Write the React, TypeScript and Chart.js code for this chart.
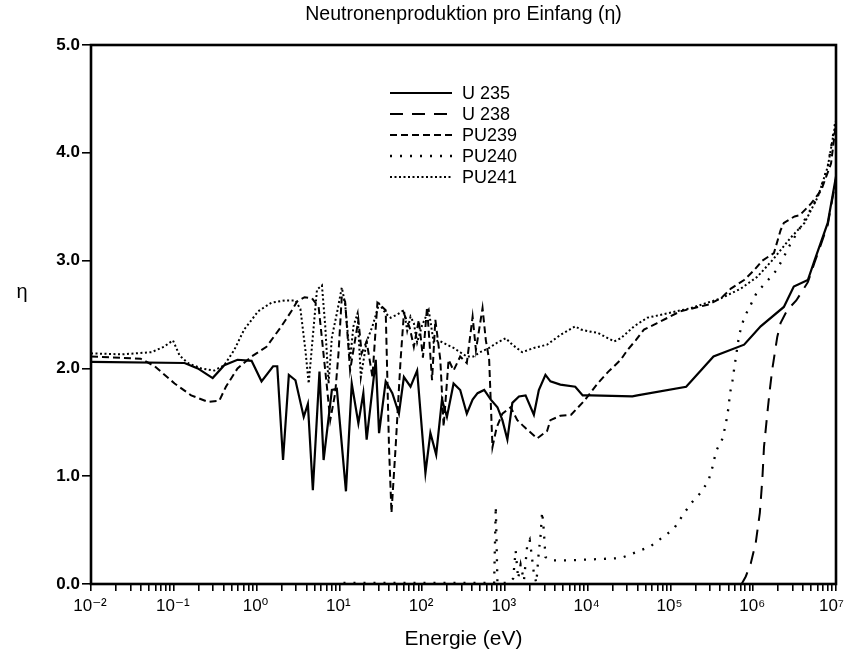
import React, { useEffect, useRef } from 'react';
import { Chart, registerables } from 'chart.js';

Chart.register(...registerables);

// ---------- texts ----------
const chartTitle = 'Neutronenproduktion pro Einfang (η)';
const xAxisTitle = 'Energie (eV)';
const yAxisTitle = 'η';
const seriesNames = ['U 235', 'U 238', 'PU239', 'PU240', 'PU241'];

// ---------- axes ----------
const yTickValues = [0, 1, 2, 3, 4, 5];
const xDecades = [-2, -1, 0, 1, 2, 3, 4, 5, 6, 7];
const xMinorFactors = [1, 2, 3, 4, 5, 6, 7, 8, 9];

// ---------- data: [log10(E / eV), eta] ----------
const u235: [number, number][] = [
  [-2, 2.06], [-0.87, 2.05], [-0.71, 2.0], [-0.53, 1.91], [-0.39, 2.03], [-0.23, 2.08],
  [-0.06, 2.07], [0.06, 1.88], [0.2, 2.02], [0.25, 2.02], [0.32, 1.15], [0.39, 1.94],
  [0.47, 1.89], [0.57, 1.55], [0.62, 1.67], [0.68, 0.87], [0.76, 1.97], [0.81, 1.15],
  [0.91, 1.8], [0.97, 1.81], [1.08, 0.86], [1.15, 1.86], [1.23, 1.49], [1.29, 1.77],
  [1.33, 1.34], [1.44, 2.08], [1.48, 1.4], [1.56, 1.88], [1.64, 1.77], [1.72, 1.58],
  [1.78, 1.92], [1.86, 1.83], [1.94, 1.98], [2.04, 1.03], [2.1, 1.4], [2.17, 1.2],
  [2.24, 1.71], [2.3, 1.55], [2.38, 1.86], [2.46, 1.8], [2.54, 1.58], [2.61, 1.71],
  [2.67, 1.77], [2.75, 1.8], [2.83, 1.71], [2.91, 1.64], [2.97, 1.52], [3.03, 1.34],
  [3.09, 1.68], [3.17, 1.74], [3.25, 1.75], [3.35, 1.57], [3.41, 1.8], [3.49, 1.94],
  [3.55, 1.88], [3.67, 1.85], [3.85, 1.83], [3.94, 1.75], [4.04, 1.75], [4.54, 1.74],
  [4.6, 1.75], [5.19, 1.83], [5.52, 2.11], [5.89, 2.22], [6.09, 2.39], [6.37, 2.57],
  [6.49, 2.76], [6.66, 2.82], [6.74, 3.0], [6.9, 3.35], [7.0, 3.78],
];

const u238: [number, number][] = [
  [5.86, 0.0], [5.91, 0.07], [5.97, 0.19], [6.03, 0.38], [6.08, 0.66], [6.11, 0.97],
  [6.13, 1.27], [6.17, 1.58], [6.2, 1.8], [6.23, 1.99], [6.29, 2.29], [6.33, 2.42],
  [6.41, 2.54], [6.52, 2.63], [6.66, 2.8], [6.74, 2.98], [6.9, 3.33], [7.0, 3.76],
];

const pu239: [number, number][] = [
  [-2, 2.11], [-1.4, 2.09], [-1.23, 2.02], [-0.99, 1.86], [-0.79, 1.75], [-0.59, 1.69],
  [-0.45, 1.7], [-0.37, 1.83], [-0.23, 2.0], [-0.06, 2.11], [0.12, 2.2], [0.3, 2.39],
  [0.42, 2.53], [0.49, 2.62], [0.58, 2.66], [0.67, 2.65], [0.75, 2.57], [0.85, 1.83],
  [0.89, 1.52], [0.95, 1.77], [0.99, 2.14], [1.03, 2.67], [1.07, 2.62], [1.13, 1.98],
  [1.23, 2.45], [1.27, 2.14], [1.33, 2.25], [1.4, 1.92], [1.46, 2.61], [1.56, 2.54],
  [1.6, 1.27], [1.63, 0.66], [1.68, 1.27], [1.74, 2.08], [1.78, 2.51], [1.85, 2.38],
  [1.9, 2.2], [1.96, 2.45], [2.01, 2.1], [2.06, 2.57], [2.12, 1.89], [2.16, 2.45],
  [2.22, 2.08], [2.26, 1.46], [2.32, 2.08], [2.38, 1.98], [2.46, 2.11], [2.54, 2.05],
  [2.61, 2.48], [2.65, 2.17], [2.73, 2.56], [2.77, 2.26], [2.81, 2.08], [2.85, 1.27],
  [2.9, 1.45], [2.97, 1.58], [3.07, 1.64], [3.15, 1.52], [3.23, 1.46], [3.39, 1.35],
  [3.51, 1.42], [3.55, 1.52], [3.67, 1.56], [3.8, 1.57], [3.96, 1.7], [4.12, 1.86],
  [4.25, 1.97], [4.4, 2.08], [4.48, 2.17], [4.58, 2.26], [4.68, 2.36], [4.84, 2.42],
  [5.12, 2.53], [5.45, 2.59], [5.61, 2.65], [5.73, 2.74], [5.89, 2.82], [6.01, 2.91],
  [6.11, 3.0], [6.25, 3.07], [6.33, 3.28], [6.37, 3.35], [6.5, 3.41], [6.56, 3.42],
  [6.7, 3.53], [6.82, 3.65], [6.94, 3.9], [7.0, 4.28],
];

const pu240: [number, number][] = [
  [1.05, 0.01], [2.0, 0.01], [2.87, 0.01], [2.89, 0.72], [2.91, 0.01], [3.05, 0.01],
  [3.1, 0.05], [3.13, 0.31], [3.16, 0.05], [3.19, 0.18], [3.23, 0.03], [3.27, 0.36],
  [3.3, 0.41], [3.32, 0.29], [3.35, 0.1], [3.38, 0.01], [3.41, 0.3], [3.43, 0.44],
  [3.45, 0.67], [3.47, 0.5], [3.49, 0.25], [3.55, 0.22], [3.8, 0.22], [4.1, 0.23],
  [4.4, 0.24], [4.6, 0.3], [4.76, 0.35], [4.9, 0.43], [5.04, 0.51], [5.15, 0.64],
  [5.25, 0.75], [5.37, 0.85], [5.46, 0.96], [5.51, 1.09], [5.55, 1.23], [5.63, 1.35],
  [5.67, 1.49], [5.7, 1.63], [5.72, 1.77], [5.75, 1.89], [5.78, 2.05], [5.83, 2.31],
  [5.89, 2.47], [5.97, 2.59], [6.04, 2.7], [6.18, 2.82], [6.28, 2.91], [6.36, 3.02],
  [6.44, 3.14], [6.6, 3.35], [6.78, 3.59], [6.9, 3.87], [7.0, 4.32],
];

const pu241: [number, number][] = [
  [-2, 2.14], [-1.64, 2.13], [-1.27, 2.15], [-1.12, 2.2], [-1.01, 2.26], [-0.93, 2.12],
  [-0.83, 2.05], [-0.67, 2.0], [-0.51, 1.98], [-0.39, 2.03], [-0.27, 2.17], [-0.15, 2.36],
  [0.02, 2.53], [0.18, 2.61], [0.34, 2.63], [0.47, 2.63], [0.53, 2.55], [0.59, 2.17],
  [0.63, 1.86], [0.68, 2.3], [0.73, 2.73], [0.79, 2.77], [0.83, 2.39], [0.87, 1.86],
  [0.91, 2.29], [0.97, 2.51], [1.03, 2.75], [1.07, 2.6], [1.13, 2.08], [1.17, 2.39],
  [1.22, 2.51], [1.26, 1.92], [1.33, 2.25], [1.4, 2.39], [1.48, 2.6], [1.56, 2.51],
  [1.62, 2.47], [1.7, 2.5], [1.78, 2.54], [1.82, 2.35], [1.86, 2.48], [1.9, 2.42],
  [1.94, 2.24], [2.0, 2.4], [2.08, 2.54], [2.14, 2.24], [2.2, 2.26], [2.3, 2.22],
  [2.38, 2.19], [2.46, 2.15], [2.54, 2.11], [2.62, 2.11], [2.7, 2.15], [2.81, 2.19],
  [2.91, 2.24], [3.01, 2.28], [3.09, 2.22], [3.21, 2.15], [3.35, 2.19], [3.51, 2.22],
  [3.67, 2.31], [3.85, 2.39], [3.92, 2.36], [4.04, 2.34], [4.12, 2.33], [4.32, 2.25],
  [4.4, 2.28], [4.56, 2.39], [4.72, 2.47], [4.96, 2.51], [5.25, 2.56], [5.61, 2.65],
  [5.85, 2.74], [6.05, 2.85], [6.25, 3.02], [6.45, 3.21], [6.62, 3.35], [6.78, 3.59],
  [6.9, 3.87], [7.0, 4.3],
];

const seriesData = [u235, u238, pu239, pu240, pu241];

// ---------- styles ----------
const FONT = "'Liberation Sans', 'DejaVu Sans', Arial, sans-serif";
const INK = '#000';
const seriesDash: number[][] = [[], [13, 9], [7, 4], [2, 8], [2, 2.5]];
const seriesWidth = [2.2, 2, 2, 2.3, 2];

const SUP: Record<string, string> = {
  '-': '⁻', '0': '⁰', '1': '¹', '2': '²', '3': '³', '4': '⁴', '5': '⁵', '6': '⁶', '7': '⁷', '8': '⁸', '9': '⁹',
};
const supText = (n: number) => String(n).split('').map((c) => SUP[c] || c).join('');

const decorPlugin = {
  id: 'decor',
  afterDatasetsDraw(chart: any) {
    const { ctx, chartArea, scales } = chart;
    const { left, right, top, bottom } = chartArea;
    ctx.save();
    // frame
    ctx.strokeStyle = INK;
    ctx.lineWidth = 2.6;
    ctx.setLineDash([]);
    ctx.strokeRect(left, top, right - left, bottom - top);
    // title
    ctx.fillStyle = INK;
    ctx.font = `19.5px ${FONT}`;
    ctx.textAlign = 'center';
    ctx.textBaseline = 'middle';
    ctx.fillText(chartTitle, (left + right) / 2, 15);
    // y axis title (upright)
    ctx.font = `20px ${FONT}`;
    ctx.fillText(yAxisTitle, 22, 292);
    // x axis decade labels: "10" with raised exponent
    xDecades.forEach((d, i) => {
      const tx = scales.x.getPixelForValue(Math.pow(10, d));
      const base = '10';
      const exp = supText(d);
      ctx.font = `17px ${FONT}`;
      const wb = ctx.measureText(base).width;
      ctx.font = `17px ${FONT}`;
      const we = ctx.measureText(exp).width;
      let x0 = tx - (wb + we) / 2 - 1;
      if (i === xDecades.length - 1) x0 = Math.min(x0, 844 - wb - we);
      ctx.textAlign = 'left';
      ctx.textBaseline = 'middle';
      ctx.font = `17px ${FONT}`;
      ctx.fillText(base, x0, 606);
      ctx.fillText(exp, x0 + wb, 606);
    });
    // legend
    const lx0 = 390;
    const lx1 = 452;
    const ly0 = 93;
    const dy = 21;
    seriesNames.forEach((name, i) => {
      const y = ly0 + i * dy;
      ctx.beginPath();
      ctx.setLineDash(seriesDash[i]);
      ctx.lineWidth = seriesWidth[i];
      ctx.moveTo(lx0, y);
      ctx.lineTo(lx1, y);
      ctx.stroke();
      ctx.setLineDash([]);
      ctx.font = `18px ${FONT}`;
      ctx.textAlign = 'left';
      ctx.fillText(name, 462, y + 1);
    });
    ctx.restore();
  },
};

export default function App() {
  const canvasRef = useRef<HTMLCanvasElement | null>(null);

  useEffect(() => {
    document.body.style.margin = '0';
    const canvas = canvasRef.current;
    if (!canvas) return;

    const xTickValues: number[] = [];
    xDecades.forEach((d) => {
      if (d === xDecades[xDecades.length - 1]) {
        xTickValues.push(Math.pow(10, d));
      } else {
        xMinorFactors.forEach((f) => xTickValues.push(f * Math.pow(10, d)));
      }
    });

    const chart = new Chart(canvas, {
      type: 'line',
      data: {
        datasets: seriesData.map((arr, i) => ({
          label: seriesNames[i],
          data: arr.map(([l, v]) => ({ x: Math.pow(10, l), y: v })),
          borderColor: INK,
          backgroundColor: INK,
          borderWidth: seriesWidth[i],
          borderDash: seriesDash[i],
          pointRadius: 0,
          fill: false,
          tension: 0,
        })),
      },
      options: {
        responsive: false,
        animation: false,
        parsing: false as any,
        normalized: true,
        layout: { padding: { left: 0, right: 9, top: 45, bottom: 0 } },
        plugins: {
          legend: { display: false },
          title: { display: false },
          tooltip: { enabled: false },
        },
        scales: {
          x: {
            type: 'logarithmic',
            position: 'bottom',
            min: 0.01,
            max: 1e7,
            afterBuildTicks: (scale: any) => {
              scale.ticks = xTickValues.map((v) => ({ value: v }));
            },
            afterFit: (scale: any) => {
              scale.height = 73;
              scale.paddingLeft = 0;
              scale.paddingRight = 0;
            },
            grid: {
              display: true,
              drawOnChartArea: false,
              drawTicks: true,
              tickLength: 7,
              color: INK,
              lineWidth: 1.6,
            },
            border: { display: false },
            ticks: {
              autoSkip: false,
              maxRotation: 0,
              minRotation: 0,
              padding: 2,
              color: 'rgba(0,0,0,0)',
              font: { family: FONT, size: 16 },
              callback: () => '',
            },
            title: {
              display: true,
              text: xAxisTitle,
              color: INK,
              font: { family: FONT, size: 21 },
              padding: { top: 5, bottom: 5 },
            },
          },
          y: {
            type: 'linear',
            min: 0,
            max: 5,
            afterBuildTicks: (scale: any) => {
              scale.ticks = yTickValues.map((v) => ({ value: v }));
            },
            afterFit: (scale: any) => {
              scale.width = 91;
            },
            grid: {
              display: true,
              drawOnChartArea: false,
              drawTicks: true,
              tickLength: 9,
              color: INK,
              lineWidth: 1.6,
            },
            border: { display: false },
            ticks: {
              padding: 2,
              color: INK,
              font: { family: FONT, size: 17, weight: 'bold' },
              callback: (value: any) => Number(value).toFixed(1),
            },
          },
        },
      },
      plugins: [decorPlugin],
    } as any);

    return () => {
      chart.destroy();
    };
  }, []);

  return (
    <canvas
      ref={canvasRef}
      width={845}
      height={657}
      style={{ display: 'block', width: 845, height: 657 }}
    />
  );
}
